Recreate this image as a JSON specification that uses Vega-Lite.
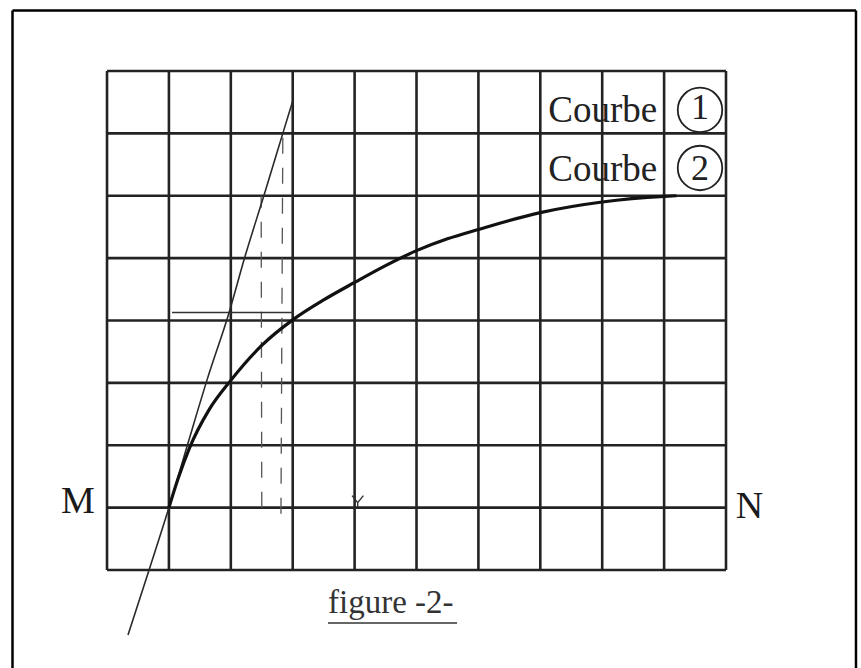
{
  "$schema": "https://vega.github.io/schema/vega-lite/v6.json",
  "width": 861,
  "height": 668,
  "padding": 0,
  "autosize": {"type": "none"},
  "background": "white",
  "config": {"view": {"stroke": null}},
  "datasets": {
    "grid": [
      {"x": 0, "y": 0, "x2": 0, "y2": 8},
      {"x": 1, "y": 0, "x2": 1, "y2": 8},
      {"x": 2, "y": 0, "x2": 2, "y2": 8},
      {"x": 3, "y": 0, "x2": 3, "y2": 8},
      {"x": 4, "y": 0, "x2": 4, "y2": 8},
      {"x": 5, "y": 0, "x2": 5, "y2": 8},
      {"x": 6, "y": 0, "x2": 6, "y2": 8},
      {"x": 7, "y": 0, "x2": 7, "y2": 8},
      {"x": 8, "y": 0, "x2": 8, "y2": 8},
      {"x": 9, "y": 0, "x2": 9, "y2": 8},
      {"x": 10, "y": 0, "x2": 10, "y2": 8},
      {"x": 0, "y": 0, "x2": 10, "y2": 0},
      {"x": 0, "y": 1, "x2": 10, "y2": 1},
      {"x": 0, "y": 2, "x2": 10, "y2": 2},
      {"x": 0, "y": 3, "x2": 10, "y2": 3},
      {"x": 0, "y": 4, "x2": 10, "y2": 4},
      {"x": 0, "y": 5, "x2": 10, "y2": 5},
      {"x": 0, "y": 6, "x2": 10, "y2": 6},
      {"x": 0, "y": 7, "x2": 10, "y2": 7},
      {"x": 0, "y": 8, "x2": 10, "y2": 8}
    ],
    "frame": [
      {"x": -1.527, "y": -1.6, "x2": -1.527, "y2": 8.97},
      {"x": 12.1, "y": -1.6, "x2": 12.1, "y2": 8.97},
      {"x": -1.527, "y": 8.97, "x2": 12.1, "y2": 8.97}
    ],
    "dashed": [
      {"x": 2.5, "y": 1.0, "x2": 2.49, "y2": 6.0},
      {"x": 2.81, "y": 0.9, "x2": 2.84, "y2": 6.95}
    ],
    "thinrules": [
      {"x": 1.05, "y": 4.13, "x2": 3.02, "y2": 4.13},
      {"x": 3.57, "y": -0.85, "x2": 5.655, "y2": -0.85}
    ],
    "tangent": [
      {"i": 0, "x": 0.339, "y": -1.04},
      {"i": 1, "x": 0.695, "y": 0.05},
      {"i": 2, "x": 1.0, "y": 1.0},
      {"i": 3, "x": 1.31, "y": 2.04},
      {"i": 4, "x": 1.62, "y": 3.06},
      {"i": 5, "x": 1.97, "y": 4.12},
      {"i": 6, "x": 2.23, "y": 5.03},
      {"i": 7, "x": 2.54, "y": 6.02},
      {"i": 8, "x": 2.84, "y": 7.0},
      {"i": 9, "x": 3.0, "y": 7.52}
    ],
    "curve": [
      {"i": 0, "x": 1.0, "y": 1.0},
      {"i": 1, "x": 1.15, "y": 1.47},
      {"i": 2, "x": 1.33, "y": 1.95},
      {"i": 3, "x": 1.65, "y": 2.57},
      {"i": 4, "x": 2.0, "y": 3.04},
      {"i": 5, "x": 2.5, "y": 3.6},
      {"i": 6, "x": 3.0, "y": 4.01},
      {"i": 7, "x": 3.5, "y": 4.33},
      {"i": 8, "x": 4.0, "y": 4.61},
      {"i": 9, "x": 4.5, "y": 4.88},
      {"i": 10, "x": 5.0, "y": 5.12},
      {"i": 11, "x": 5.5, "y": 5.31},
      {"i": 12, "x": 6.0, "y": 5.46},
      {"i": 13, "x": 7.0, "y": 5.73},
      {"i": 14, "x": 8.0, "y": 5.9},
      {"i": 15, "x": 9.0, "y": 5.99},
      {"i": 16, "x": 9.2, "y": 6.0}
    ],
    "circles": [
      {"x": 9.58, "y": 7.375},
      {"x": 9.58, "y": 6.445}
    ],
    "labels": [
      {"kind": "courbe", "x": 8.01, "y": 7.19, "t": "Courbe"},
      {"kind": "courbe", "x": 8.01, "y": 6.23, "t": "Courbe"},
      {"kind": "digit", "x": 9.58, "y": 7.4, "t": "1"},
      {"kind": "digit", "x": 9.58, "y": 6.43, "t": "2"},
      {"kind": "end", "x": -0.47, "y": 0.914, "t": "M"},
      {"kind": "end", "x": 10.38, "y": 0.834, "t": "N"},
      {"kind": "caption", "x": 3.57, "y": -0.69, "t": "figure -2-"}
    ],
    "marks": [
      {"x": 4.05, "y": 1.08}
    ]
  },
  "layer": [
    {
      "data": {"name": "frame"},
      "mark": {"type": "rule", "stroke": "#000000", "strokeWidth": 2.5},
      "encoding": {
        "x": {"field": "x", "type": "quantitative", "scale": {"domain": [-1.729, 12.181], "nice": false, "zero": false}, "axis": null},
        "y": {"field": "y", "type": "quantitative", "scale": {"domain": [-1.571, 9.138], "nice": false, "zero": false}, "axis": null},
        "x2": {"field": "x2"},
        "y2": {"field": "y2"}
      }
    },
    {
      "data": {"name": "grid"},
      "mark": {"type": "rule", "stroke": "#232323", "strokeWidth": 2.6},
      "encoding": {
        "x": {"field": "x", "type": "quantitative", "scale": {"domain": [-1.729, 12.181], "nice": false, "zero": false}, "axis": null},
        "y": {"field": "y", "type": "quantitative", "scale": {"domain": [-1.571, 9.138], "nice": false, "zero": false}, "axis": null},
        "x2": {"field": "x2"},
        "y2": {"field": "y2"}
      }
    },
    {
      "data": {"name": "dashed"},
      "mark": {"type": "rule", "stroke": "#555555", "strokeWidth": 1.3, "strokeDash": [16, 14]},
      "encoding": {
        "x": {"field": "x", "type": "quantitative", "scale": {"domain": [-1.729, 12.181], "nice": false, "zero": false}, "axis": null},
        "y": {"field": "y", "type": "quantitative", "scale": {"domain": [-1.571, 9.138], "nice": false, "zero": false}, "axis": null},
        "x2": {"field": "x2"},
        "y2": {"field": "y2"}
      }
    },
    {
      "data": {"name": "thinrules"},
      "mark": {"type": "rule", "stroke": "#333333", "strokeWidth": 1.5},
      "encoding": {
        "x": {"field": "x", "type": "quantitative", "scale": {"domain": [-1.729, 12.181], "nice": false, "zero": false}, "axis": null},
        "y": {"field": "y", "type": "quantitative", "scale": {"domain": [-1.571, 9.138], "nice": false, "zero": false}, "axis": null},
        "x2": {"field": "x2"},
        "y2": {"field": "y2"}
      }
    },
    {
      "data": {"name": "tangent"},
      "mark": {"type": "line", "stroke": "#2a2a2a", "strokeWidth": 1.6, "interpolate": "monotone"},
      "encoding": {
        "x": {"field": "x", "type": "quantitative", "scale": {"domain": [-1.729, 12.181], "nice": false, "zero": false}, "axis": null},
        "y": {"field": "y", "type": "quantitative", "scale": {"domain": [-1.571, 9.138], "nice": false, "zero": false}, "axis": null},
        "order": {"field": "i", "type": "quantitative"}
      }
    },
    {
      "data": {"name": "curve"},
      "mark": {"type": "line", "stroke": "#111111", "strokeWidth": 3.2, "interpolate": "monotone"},
      "encoding": {
        "x": {"field": "x", "type": "quantitative", "scale": {"domain": [-1.729, 12.181], "nice": false, "zero": false}, "axis": null},
        "y": {"field": "y", "type": "quantitative", "scale": {"domain": [-1.571, 9.138], "nice": false, "zero": false}, "axis": null},
        "order": {"field": "i", "type": "quantitative"}
      }
    },
    {
      "data": {"name": "circles"},
      "mark": {"type": "point", "shape": "circle", "filled": false, "size": 1980, "stroke": "#222222", "strokeWidth": 1.8, "opacity": 1},
      "encoding": {
        "x": {"field": "x", "type": "quantitative", "scale": {"domain": [-1.729, 12.181], "nice": false, "zero": false}, "axis": null},
        "y": {"field": "y", "type": "quantitative", "scale": {"domain": [-1.571, 9.138], "nice": false, "zero": false}, "axis": null}
      }
    },
    {
      "data": {"name": "marks"},
      "mark": {"type": "point", "shape": "M-0.8,-1L0,0L0.8,-1M0,0L0,0.6", "filled": false, "size": 200, "stroke": "#333333", "strokeWidth": 1.4, "opacity": 1},
      "encoding": {
        "x": {"field": "x", "type": "quantitative", "scale": {"domain": [-1.729, 12.181], "nice": false, "zero": false}, "axis": null},
        "y": {"field": "y", "type": "quantitative", "scale": {"domain": [-1.571, 9.138], "nice": false, "zero": false}, "axis": null}
      }
    },
    {
      "data": {"name": "labels"},
      "transform": [{"filter": "datum.kind === 'courbe'"}],
      "mark": {"type": "text", "font": "Liberation Serif", "fontSize": 37, "align": "center", "baseline": "alphabetic", "color": "#222222"},
      "encoding": {
        "x": {"field": "x", "type": "quantitative", "scale": {"domain": [-1.729, 12.181], "nice": false, "zero": false}, "axis": null},
        "y": {"field": "y", "type": "quantitative", "scale": {"domain": [-1.571, 9.138], "nice": false, "zero": false}, "axis": null},
        "text": {"field": "t"}
      }
    },
    {
      "data": {"name": "labels"},
      "transform": [{"filter": "datum.kind === 'digit'"}],
      "mark": {"type": "text", "font": "Liberation Serif", "fontSize": 36, "align": "center", "baseline": "middle", "color": "#222222"},
      "encoding": {
        "x": {"field": "x", "type": "quantitative", "scale": {"domain": [-1.729, 12.181], "nice": false, "zero": false}, "axis": null},
        "y": {"field": "y", "type": "quantitative", "scale": {"domain": [-1.571, 9.138], "nice": false, "zero": false}, "axis": null},
        "text": {"field": "t"}
      }
    },
    {
      "data": {"name": "labels"},
      "transform": [{"filter": "datum.kind === 'end'"}],
      "mark": {"type": "text", "font": "Liberation Serif", "fontSize": 38, "align": "center", "baseline": "alphabetic", "color": "#1a1a1a"},
      "encoding": {
        "x": {"field": "x", "type": "quantitative", "scale": {"domain": [-1.729, 12.181], "nice": false, "zero": false}, "axis": null},
        "y": {"field": "y", "type": "quantitative", "scale": {"domain": [-1.571, 9.138], "nice": false, "zero": false}, "axis": null},
        "text": {"field": "t"}
      }
    },
    {
      "data": {"name": "labels"},
      "transform": [{"filter": "datum.kind === 'caption'"}],
      "mark": {"type": "text", "font": "Liberation Serif", "fontSize": 33, "align": "left", "baseline": "alphabetic", "color": "#333333"},
      "encoding": {
        "x": {"field": "x", "type": "quantitative", "scale": {"domain": [-1.729, 12.181], "nice": false, "zero": false}, "axis": null},
        "y": {"field": "y", "type": "quantitative", "scale": {"domain": [-1.571, 9.138], "nice": false, "zero": false}, "axis": null},
        "text": {"field": "t"}
      }
    }
  ]
}
